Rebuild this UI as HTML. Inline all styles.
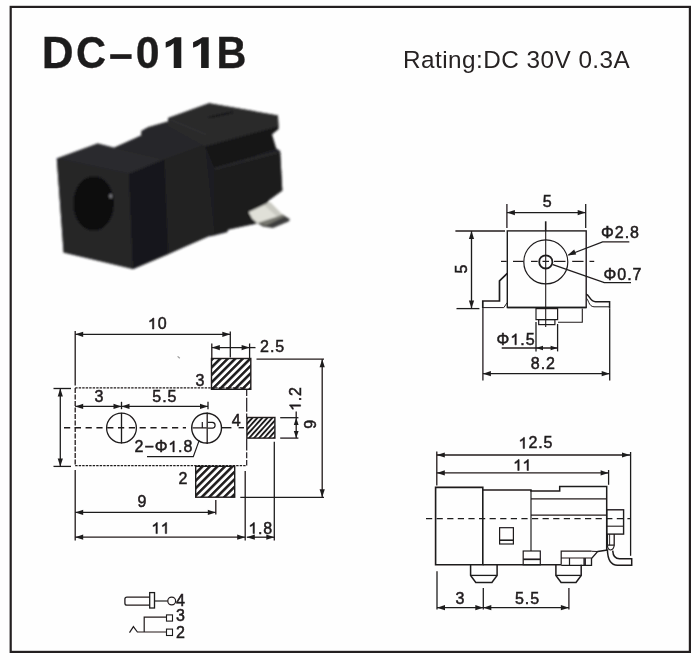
<!DOCTYPE html>
<html><head><meta charset="utf-8"><title>DC-011B</title>
<style>
html,body{margin:0;padding:0;background:#fefefe;}
body{width:700px;height:660px;overflow:hidden;font-family:"Liberation Sans",sans-serif;}
svg{display:block;font-family:"Liberation Sans",sans-serif;}
</style></head><body>
<svg width="700" height="660" viewBox="0 0 700 660">
<defs>
<filter id="soft" x="-5%" y="-5%" width="110%" height="110%"><feGaussianBlur stdDeviation="0.85"/></filter>
<filter id="ink" x="0" y="0" width="700" height="660" filterUnits="userSpaceOnUse"><feGaussianBlur stdDeviation="0.32"/></filter>
<pattern id="hatchA" width="5.3" height="5.3" patternUnits="userSpaceOnUse" patternTransform="rotate(45)">
<rect width="5.3" height="5.3" fill="#fefefe"/><rect width="2.55" height="5.3" fill="#1f1b1c"/></pattern>
<pattern id="hatchB" width="3.7" height="3.7" patternUnits="userSpaceOnUse" patternTransform="rotate(42)">
<rect width="3.7" height="3.7" fill="#fefefe"/><rect width="1.9" height="3.7" fill="#1f1b1c"/></pattern>
</defs>
<rect width="700" height="660" fill="#fefefe"/>
<rect x="10.7" y="6.9" width="679.2" height="645" fill="none" stroke="#231f20" stroke-width="2.2"/>
<g filter="url(#ink)">
<text transform="translate(41.75 68.0) scale(0.9894 1)" font-size="44.6" font-weight="bold" fill="#1f1b1c" stroke="#1f1b1c" stroke-width="0.3">D</text>
<text transform="translate(76.03 68.0) scale(0.9342 1)" font-size="44.6" font-weight="bold" fill="#1f1b1c" stroke="#1f1b1c" stroke-width="0.3">C</text>
<rect x="110.2" y="54.2" width="21.4" height="4.7" fill="#1f1b1c" stroke="none"/>
<text transform="translate(135.81 68.0) scale(0.9609 1)" font-size="44.6" font-weight="bold" fill="#1f1b1c" stroke="#1f1b1c" stroke-width="0.3">0</text>
<path d="M181.30 37.32 L181.30 68.00 L173.72 68.00 L173.72 43.25 Q171.04 46.37 165.69 47.71 L165.69 42.36 Q172.38 39.23 175.06 37.32 Z" fill="#1f1b1c" stroke="none"/>
<path d="M208.70 37.32 L208.70 68.00 L201.12 68.00 L201.12 43.25 Q198.44 46.37 193.09 47.71 L193.09 42.36 Q199.78 39.23 202.46 37.32 Z" fill="#1f1b1c" stroke="none"/>
<text transform="translate(216.51 68.0) scale(0.9294 1)" font-size="44.6" font-weight="bold" fill="#1f1b1c" stroke="#1f1b1c" stroke-width="0.3">B</text>
<text x="403.0" y="67.7" font-size="24.3" letter-spacing="0.47" fill="#262223" stroke="none">Rating:DC 30V 0.3A</text>
</g>
<g filter="url(#soft)" stroke="none">
<polygon fill="#1e1e20" points="56.8,158.6 97.7,143.6 114,147.7 141.3,135.4 141.5,131 148,127.3 168,121.5 168.2,118 209.1,103.2 277.9,115.5 278.7,129.1 271.9,134.6 276,148.2 280.1,151 282.3,190.5 269.2,200.1 262,206 256.5,223.5 244.6,226 228.5,229.6 227,232.2 213,235.8 208.5,236.4 133.1,269 63.6,252.6" />
<polygon fill="#2b2b2d" points="56.8,158.6 97.7,143.6 114,147.7 164.4,159.4 129,174" />
<polygon fill="#252527" points="56.8,158.6 129,174 133.1,269 63.6,252.6" />
<polygon fill="#18181a" points="129,174 164.4,159.4 168.2,254.2 133.1,269" />
<polygon fill="#28282a" points="114,147.7 141.3,135.4 141.5,131 148,127.3 168,121.5 205.3,144.5 164.4,159.4" />
<polygon fill="#212123" points="164.4,159.4 205.3,144.5 214.6,233 168.2,254.2" />
<polygon fill="#2a2a2c" points="168.2,118 209.1,103.2 277.9,115.5 278.5,126.5 205.3,146.4 168,126" />
<polygon fill="#161618" points="205.3,146.4 278.5,126.5 271.9,134.6 276,148.2 214.6,168.7 207,150" />
<polygon fill="#1c1c1e" points="214.6,168.7 280.1,151 282.3,190.5 269.2,200.1 256.5,223.5 244.6,226 228.5,229.6 214.6,233" />
<path d="M214.6 168.7 L280 151.5" stroke="#2f2f31" stroke-width="1.6" fill="none"/>
<path d="M170 119.5 L206 134.5" stroke="#343436" stroke-width="1.3" fill="none"/>
<path d="M209 117.6 L233 112.2" stroke="#0e0e10" stroke-width="1.5" fill="none"/>
<ellipse cx="93.6" cy="203.5" rx="20.4" ry="27.2" fill="#0c0c0e"/>
<ellipse cx="110.7" cy="196.2" rx="1.5" ry="2.4" fill="#77777a"/>
<polygon fill="#3e3e3c" points="257.1,222.9 275.7,217.1 282.1,214.3 290,219.3 288.6,221.6 272.9,228.1 262.9,226.6" />
<polygon fill="#77776f" points="257.1,222.9 275.7,217.1 282.1,214.3 285,216.2 266,225.5" />
<polygon fill="#e0e0d8" points="248.6,212.1 270,202.1 282.1,214.3 275.7,217.1 257.1,222.9 252.1,218.6" />
<polygon fill="#c9c9c1" points="264,205 270,202.1 282.1,214.3 277,216.6" />
</g>
<g stroke="#1f1b1c" fill="none" filter="url(#ink)">
<rect x="211.5" y="358.5" width="39.3" height="30.8" fill="url(#hatchA)" stroke-width="1.4"/>
<rect x="246.9" y="417.5" width="28.0" height="20.6" fill="url(#hatchB)" stroke-width="1.4"/>
<rect x="195.7" y="466.3" width="39.0" height="30.9" fill="url(#hatchA)" stroke-width="1.4"/>
<line x1="75.2" y1="387.9" x2="246.7" y2="387.9" stroke-width="1.4" stroke-dasharray="2.4 1.1"/>
<line x1="75.2" y1="465.6" x2="246.7" y2="465.6" stroke-width="1.4" stroke-dasharray="2.4 1.1"/>
<line x1="75.2" y1="387.9" x2="75.2" y2="465.6" stroke-width="1.3" stroke-dasharray="5 1.5"/>
<line x1="246.7" y1="389.5" x2="246.7" y2="417.0" stroke-width="1.2" stroke-dasharray="6.5 1.8 14 1.8"/>
<line x1="246.7" y1="438.5" x2="246.7" y2="465.6" stroke-width="1.2" stroke-dasharray="12 1.8 6 1.8"/>
<line x1="64.0" y1="427.8" x2="186.0" y2="427.8" stroke-width="1.4" stroke-dasharray="6.2 4.6"/>
<line x1="221.7" y1="427.7" x2="231.4" y2="427.7" stroke-width="1.4" />
<line x1="238.6" y1="427.7" x2="244.0" y2="427.7" stroke-width="1.4" />
<path d="M177.6 356.4 L179.8 358.2" stroke-width="1.2" fill="none" stroke="#9a9a9a"/>
<circle cx="121.5" cy="428.0" r="14.9" stroke-width="1.3"/>
<circle cx="206.6" cy="428.1" r="14.9" stroke-width="1.4"/>
<line x1="121.5" y1="412.8" x2="121.5" y2="443.5" stroke-width="1.3" />
<line x1="207.2" y1="412.4" x2="207.2" y2="444.0" stroke-width="1.3" />
<path d="M192.5 427.8 H206.8 M202.3 421.9 V427.8 M208 422.4 H212.4 Q215.1 422.6 215.1 425.2 Q215.1 428 212.4 428.2 H208" stroke-width="1.2" fill="none" />
<line x1="75.2" y1="331.0" x2="75.2" y2="385.5" stroke-width="1.3" />
<line x1="230.3" y1="331.4" x2="230.3" y2="357.5" stroke-width="1.3" />
<line x1="75.2" y1="334.3" x2="230.3" y2="334.3" stroke-width="1.3" />
<polygon points="75.2,334.3 83.2,331.7 83.2,336.9" fill="#1f1b1c" stroke="none"/>
<polygon points="230.3,334.3 222.3,331.7 222.3,336.9" fill="#1f1b1c" stroke="none"/>
<g fill="#1f1b1c" stroke="#1f1b1c" stroke-width="0.5" font-size="16" font-weight="normal" >
<path d="M153.86 317.99 L153.86 329.00 L152.46 329.00 L152.46 320.41 Q151.50 321.53 149.58 322.01 L149.58 320.68 Q151.98 319.56 152.94 317.99 Z"/>
<text x="157.80" y="329.0">0</text>
</g>
<line x1="211.8" y1="343.5" x2="211.8" y2="358.0" stroke-width="1.3" />
<line x1="249.6" y1="343.5" x2="249.6" y2="358.0" stroke-width="1.3" />
<line x1="211.8" y1="347.6" x2="249.6" y2="347.6" stroke-width="1.3" />
<polygon points="211.8,347.6 219.8,345.0 219.8,350.2" fill="#1f1b1c" stroke="none"/>
<polygon points="249.6,347.6 241.6,345.0 241.6,350.2" fill="#1f1b1c" stroke="none"/>
<line x1="249.6" y1="347.6" x2="255.5" y2="347.6" stroke-width="1.3" />
<g fill="#1f1b1c" stroke="#1f1b1c" stroke-width="0.5" font-size="16" font-weight="normal" >
<text x="260.00" y="351.6">2</text>
<text x="269.90" y="351.6">.</text>
<text x="275.34" y="351.6">5</text>
</g>
<line x1="53.5" y1="388.5" x2="71.0" y2="388.5" stroke-width="1.3" />
<line x1="53.5" y1="466.4" x2="71.0" y2="466.4" stroke-width="1.3" />
<line x1="60.3" y1="388.5" x2="60.3" y2="466.4" stroke-width="1.3" />
<polygon points="60.3,388.5 57.7,396.5 62.9,396.5" fill="#1f1b1c" stroke="none"/>
<polygon points="60.3,466.4 57.7,458.4 62.9,458.4" fill="#1f1b1c" stroke="none"/>
<line x1="75.2" y1="406.4" x2="121.5" y2="406.4" stroke-width="1.3" />
<polygon points="75.2,406.4 83.2,403.8 83.2,409.0" fill="#1f1b1c" stroke="none"/>
<polygon points="121.5,406.4 113.5,403.8 113.5,409.0" fill="#1f1b1c" stroke="none"/>
<line x1="121.5" y1="406.4" x2="208.0" y2="406.4" stroke-width="1.3" />
<polygon points="121.5,406.4 129.5,403.8 129.5,409.0" fill="#1f1b1c" stroke="none"/>
<polygon points="208.0,406.4 200.0,403.8 200.0,409.0" fill="#1f1b1c" stroke="none"/>
<line x1="121.5" y1="401.8" x2="121.5" y2="409.2" stroke-width="1.3" />
<line x1="208.0" y1="401.8" x2="208.0" y2="409.2" stroke-width="1.3" />
<g fill="#1f1b1c" stroke="#1f1b1c" stroke-width="0.5" font-size="16" font-weight="normal" >
<text x="94.55" y="401.6">3</text>
</g>
<g fill="#1f1b1c" stroke="#1f1b1c" stroke-width="0.5" font-size="16" font-weight="normal" >
<text x="152.28" y="401.6">5</text>
<text x="162.18" y="401.6">.</text>
<text x="167.62" y="401.6">5</text>
</g>
<g fill="#1f1b1c" stroke="#1f1b1c" stroke-width="0.5" font-size="16" font-weight="normal" >
<text x="134.60" y="451.9">2</text>
<text x="144.40" y="451.9">−</text>
<text x="154.64" y="451.9">Φ</text>
<path d="M174.26 440.89 L174.26 451.90 L172.87 451.90 L172.87 443.31 Q171.91 444.43 169.99 444.91 L169.99 443.58 Q172.39 442.46 173.35 440.89 Z"/>
<text x="178.10" y="451.9">.</text>
<text x="183.45" y="451.9">8</text>
</g>
<path d="M147 456.6 H193.3 L199.2 440.4" stroke-width="1.2" fill="none" />
<g fill="#1f1b1c" stroke="#1f1b1c" stroke-width="0.5" font-size="16" font-weight="normal" >
<text x="195.55" y="385.9">3</text>
</g>
<g fill="#1f1b1c" stroke="#1f1b1c" stroke-width="0.5" font-size="16" font-weight="normal" >
<text x="231.75" y="426.2">4</text>
</g>
<g fill="#1f1b1c" stroke="#1f1b1c" stroke-width="0.5" font-size="16" font-weight="normal" >
<text x="178.55" y="483.8">2</text>
</g>
<line x1="215.8" y1="500.0" x2="215.8" y2="514.5" stroke-width="1.3" />
<line x1="75.2" y1="512.4" x2="215.8" y2="512.4" stroke-width="1.3" />
<polygon points="75.2,512.4 83.2,509.8 83.2,515.0" fill="#1f1b1c" stroke="none"/>
<polygon points="215.8,512.4 207.8,509.8 207.8,515.0" fill="#1f1b1c" stroke="none"/>
<g fill="#1f1b1c" stroke="#1f1b1c" stroke-width="0.5" font-size="16" font-weight="normal" >
<text x="137.55" y="507.0">9</text>
</g>
<line x1="75.2" y1="470.0" x2="75.2" y2="540.5" stroke-width="1.3" />
<line x1="245.2" y1="471.0" x2="245.2" y2="540.5" stroke-width="1.3" />
<line x1="274.3" y1="441.8" x2="274.3" y2="540.5" stroke-width="1.3" />
<line x1="75.2" y1="537.2" x2="245.2" y2="537.2" stroke-width="1.3" />
<polygon points="75.2,537.2 83.2,534.6 83.2,539.8" fill="#1f1b1c" stroke="none"/>
<polygon points="245.2,537.2 237.2,534.6 237.2,539.8" fill="#1f1b1c" stroke="none"/>
<g fill="#1f1b1c" stroke="#1f1b1c" stroke-width="0.5" font-size="16" font-weight="normal" >
<path d="M157.36 522.59 L157.36 533.60 L155.96 533.60 L155.96 525.01 Q155.00 526.13 153.08 526.61 L153.08 525.28 Q155.48 524.16 156.44 522.59 Z"/>
<path d="M166.65 522.59 L166.65 533.60 L165.26 533.60 L165.26 525.01 Q164.30 526.13 162.38 526.61 L162.38 525.28 Q164.78 524.16 165.74 522.59 Z"/>
</g>
<line x1="246.8" y1="537.2" x2="274.3" y2="537.2" stroke-width="1.3" />
<polygon points="246.8,537.2 254.8,534.6 254.8,539.8" fill="#1f1b1c" stroke="none"/>
<polygon points="274.3,537.2 266.3,534.6 266.3,539.8" fill="#1f1b1c" stroke="none"/>
<g fill="#1f1b1c" stroke="#1f1b1c" stroke-width="0.5" font-size="16" font-weight="normal" >
<path d="M254.43 522.59 L254.43 533.60 L253.04 533.60 L253.04 525.01 Q252.08 526.13 250.16 526.61 L250.16 525.28 Q252.56 524.16 253.52 522.59 Z"/>
<text x="258.08" y="533.6">.</text>
<text x="263.22" y="533.6">8</text>
</g>
<line x1="280.2" y1="417.7" x2="298.4" y2="417.7" stroke-width="1.3" />
<line x1="280.2" y1="438.1" x2="298.4" y2="438.1" stroke-width="1.3" />
<line x1="296.2" y1="411.5" x2="296.2" y2="438.1" stroke-width="1.3" />
<polygon points="296.2,417.7 293.8,424.9 298.6,424.9" fill="#1f1b1c" stroke="none"/>
<polygon points="296.2,438.1 293.8,430.9 298.6,430.9" fill="#1f1b1c" stroke="none"/>
<g transform="rotate(-90 300.6 399.0)" fill="#1f1b1c" stroke="#1f1b1c" stroke-width="0.5" font-size="16" font-weight="normal" >
<path d="M294.73 387.99 L294.73 399.00 L293.34 399.00 L293.34 390.41 Q292.38 391.53 290.46 392.01 L290.46 390.68 Q292.86 389.56 293.82 387.99 Z"/>
<text x="298.38" y="399.0">.</text>
<text x="303.52" y="399.0">2</text>
</g>
<line x1="256.5" y1="359.2" x2="324.0" y2="359.2" stroke-width="1.3" />
<line x1="240.3" y1="497.3" x2="324.0" y2="497.3" stroke-width="1.3" />
<line x1="322.2" y1="359.2" x2="322.2" y2="497.3" stroke-width="1.3" />
<polygon points="322.2,359.2 319.6,367.2 324.8,367.2" fill="#1f1b1c" stroke="none"/>
<polygon points="322.2,497.3 319.6,489.3 324.8,489.3" fill="#1f1b1c" stroke="none"/>
<g transform="rotate(-90 316.2 424.3)" fill="#1f1b1c" stroke="#1f1b1c" stroke-width="0.5" font-size="16" font-weight="normal" >
<text x="311.75" y="424.3">9</text>
</g>
<rect x="507.3" y="230.9" width="78.9" height="76.6" stroke-width="1.4"/>
<circle cx="545.8" cy="261.9" r="22.0" stroke-width="1.2"/>
<circle cx="545.8" cy="261.9" r="6.6" stroke-width="1.8"/>
<line x1="545.7" y1="221.3" x2="545.7" y2="231.0" stroke-width="1.6" />
<line x1="545.7" y1="231.0" x2="545.7" y2="327.0" stroke-width="1.1" />
<line x1="501.0" y1="261.4" x2="506.7" y2="261.4" stroke-width="1.2" />
<line x1="513.0" y1="261.4" x2="523.5" y2="261.4" stroke-width="1.2" />
<line x1="531.0" y1="261.4" x2="537.7" y2="261.4" stroke-width="1.2" />
<line x1="542.5" y1="261.4" x2="549.0" y2="261.4" stroke-width="1.2" />
<line x1="554.0" y1="261.4" x2="565.5" y2="261.4" stroke-width="1.2" />
<line x1="572.2" y1="261.4" x2="583.5" y2="261.4" stroke-width="1.2" />
<line x1="589.5" y1="261.4" x2="594.2" y2="261.4" stroke-width="1.2" />
<line x1="506.9" y1="204.0" x2="506.9" y2="228.0" stroke-width="1.3" />
<line x1="585.7" y1="204.0" x2="585.7" y2="228.0" stroke-width="1.3" />
<line x1="506.9" y1="212.6" x2="585.7" y2="212.6" stroke-width="1.3" />
<polygon points="506.9,212.6 514.9,210.0 514.9,215.2" fill="#1f1b1c" stroke="none"/>
<polygon points="585.7,212.6 577.7,210.0 577.7,215.2" fill="#1f1b1c" stroke="none"/>
<g fill="#1f1b1c" stroke="#1f1b1c" stroke-width="0.5" font-size="16" font-weight="normal" >
<text x="542.85" y="206.8">5</text>
</g>
<line x1="455.4" y1="231.0" x2="505.0" y2="231.0" stroke-width="1.3" />
<line x1="456.5" y1="308.6" x2="479.4" y2="308.6" stroke-width="1.3" />
<line x1="471.5" y1="231.0" x2="471.5" y2="308.6" stroke-width="1.3" />
<polygon points="471.5,231.0 468.9,239.0 474.1,239.0" fill="#1f1b1c" stroke="none"/>
<polygon points="471.5,308.6 468.9,300.6 474.1,300.6" fill="#1f1b1c" stroke="none"/>
<g transform="rotate(-90 466.8 269.0)" fill="#1f1b1c" stroke="#1f1b1c" stroke-width="0.5" font-size="16" font-weight="normal" >
<text x="462.35" y="269.0">5</text>
</g>
<g fill="#1f1b1c" stroke="#1f1b1c" stroke-width="0.5" font-size="16" font-weight="normal" >
<text x="601.00" y="238.4">Φ</text>
<text x="614.77" y="238.4">2</text>
<text x="624.66" y="238.4">.</text>
<text x="630.11" y="238.4">8</text>
</g>
<path d="M629.3 241.9 H602.6 L568.5 255" stroke-width="1.3" fill="none" />
<polygon points="567.2,255.4 574.2,249.6 576.2,254.6" fill="#1f1b1c" stroke="none"/>
<g fill="#1f1b1c" stroke="#1f1b1c" stroke-width="0.5" font-size="16" font-weight="normal" >
<text x="603.50" y="279.5">Φ</text>
<text x="617.27" y="279.5">0</text>
<text x="627.16" y="279.5">.</text>
<text x="632.61" y="279.5">7</text>
</g>
<path d="M631 282.6 H604.3 L552.9 264.7" stroke-width="1.3" fill="none" />
<path d="M507.3 273.3 L499.5 280.8 V301 H482.8 V308.6" stroke-width="1.7" fill="none" />
<path d="M482.8 307.6 H503.8 L507.3 302.5" stroke-width="1.0" fill="none" />
<path d="M586.2 294.3 C589.5 295 590 301.4 595.5 301.7 H609.6 V308.6" stroke-width="1.5" fill="none" />
<path d="M586.2 298 C588.5 299 588.5 306.6 594 306.8 H609.6" stroke-width="1.0" fill="none" />
<line x1="507.3" y1="307.5" x2="586.2" y2="307.5" stroke-width="1.4" />
<path d="M582.3 308.6 V322.3 H558" stroke-width="1.1" fill="none" />
<rect x="536" y="308.6" width="21.6" height="11" stroke-width="1.2"/>
<rect x="538.7" y="319.6" width="16.2" height="5" stroke-width="1.2"/>
<line x1="536.0" y1="322.0" x2="536.0" y2="351.4" stroke-width="1.3" />
<line x1="557.6" y1="324.0" x2="557.6" y2="351.4" stroke-width="1.3" />
<line x1="501.7" y1="348.0" x2="557.6" y2="348.0" stroke-width="1.3" />
<polygon points="536.0,348.0 543.0,345.7 543.0,350.3" fill="#1f1b1c" stroke="none"/>
<polygon points="557.6,348.0 550.6,345.7 550.6,350.3" fill="#1f1b1c" stroke="none"/>
<g fill="#1f1b1c" stroke="#1f1b1c" stroke-width="0.5" font-size="16" font-weight="normal" >
<text x="496.60" y="344.8">Φ</text>
<path d="M516.32 333.79 L516.32 344.80 L514.93 344.80 L514.93 336.21 Q513.97 337.33 512.05 337.81 L512.05 336.48 Q514.45 335.36 515.41 333.79 Z"/>
<text x="520.26" y="344.8">.</text>
<text x="525.71" y="344.8">5</text>
</g>
<line x1="482.9" y1="308.6" x2="482.9" y2="380.6" stroke-width="1.3" />
<line x1="609.7" y1="308.6" x2="609.7" y2="380.6" stroke-width="1.3" />
<line x1="482.9" y1="373.7" x2="609.7" y2="373.7" stroke-width="1.3" />
<polygon points="482.9,373.7 490.9,371.1 490.9,376.3" fill="#1f1b1c" stroke="none"/>
<polygon points="609.7,373.7 601.7,371.1 601.7,376.3" fill="#1f1b1c" stroke="none"/>
<g fill="#1f1b1c" stroke="#1f1b1c" stroke-width="0.5" font-size="16" font-weight="normal" >
<text x="530.78" y="369.4">8</text>
<text x="540.68" y="369.4">.</text>
<text x="546.12" y="369.4">2</text>
</g>
<line x1="436.8" y1="451.4" x2="436.8" y2="485.5" stroke-width="1.3" />
<line x1="608.6" y1="470.0" x2="608.6" y2="484.8" stroke-width="1.3" />
<line x1="630.6" y1="452.0" x2="630.6" y2="555.8" stroke-width="1.3" />
<line x1="436.8" y1="455.0" x2="630.0" y2="455.0" stroke-width="1.3" />
<polygon points="436.8,455.0 444.8,452.4 444.8,457.6" fill="#1f1b1c" stroke="none"/>
<polygon points="630.0,455.0 622.0,452.4 622.0,457.6" fill="#1f1b1c" stroke="none"/>
<g fill="#1f1b1c" stroke="#1f1b1c" stroke-width="0.5" font-size="16" font-weight="normal" >
<path d="M524.53 437.39 L524.53 448.40 L523.14 448.40 L523.14 439.81 Q522.18 440.93 520.26 441.41 L520.26 440.08 Q522.66 438.96 523.62 437.39 Z"/>
<text x="528.38" y="448.4">2</text>
<text x="538.17" y="448.4">.</text>
<text x="543.52" y="448.4">5</text>
</g>
<line x1="436.8" y1="472.9" x2="608.6" y2="472.9" stroke-width="1.3" />
<polygon points="436.8,472.9 444.8,470.3 444.8,475.5" fill="#1f1b1c" stroke="none"/>
<polygon points="608.6,472.9 600.6,470.3 600.6,475.5" fill="#1f1b1c" stroke="none"/>
<g fill="#1f1b1c" stroke="#1f1b1c" stroke-width="0.5" font-size="16" font-weight="normal" >
<path d="M519.16 459.49 L519.16 470.50 L517.76 470.50 L517.76 461.91 Q516.80 463.03 514.88 463.51 L514.88 462.18 Q517.28 461.06 518.24 459.49 Z"/>
<path d="M528.45 459.49 L528.45 470.50 L527.06 470.50 L527.06 461.91 Q526.10 463.03 524.18 463.51 L524.18 462.18 Q526.58 461.06 527.54 459.49 Z"/>
</g>
<path d="M435.6 487.4 H482.8 V564.8 H435.6 Z" stroke-width="1.6" fill="none" />
<path d="M482.8 490.1 H531 V490.9 H559.7 V486.4 H606.7 V550.5" stroke-width="1.5" fill="none" />
<line x1="531.0" y1="490.1" x2="531.0" y2="551.0" stroke-width="1.2" />
<line x1="482.8" y1="564.8" x2="561.2" y2="564.8" stroke-width="1.4" />
<line x1="531.0" y1="498.9" x2="606.7" y2="498.9" stroke-width="1.2" />
<line x1="531.0" y1="515.2" x2="606.7" y2="515.2" stroke-width="1.2" />
<line x1="426.0" y1="518.7" x2="631.0" y2="518.7" stroke-width="1.2" stroke-dasharray="6.2 4.4"/>
<rect x="499.6" y="527.7" width="13.8" height="16.3" stroke-width="1.2"/>
<line x1="499.6" y1="540.2" x2="513.4" y2="540.2" stroke-width="1.6" />
<rect x="523.2" y="551" width="17.1" height="13.8" stroke-width="1.2"/>
<line x1="523.2" y1="559.3" x2="540.3" y2="559.3" stroke-width="1.7" />
<rect x="606.7" y="509.8" width="16.9" height="24.3" stroke-width="1.4"/>
<line x1="606.7" y1="526.2" x2="623.6" y2="526.2" stroke-width="1.1" />
<path d="M607.4 534.1 V545.2 H614.2 V534.1" stroke-width="1.3" fill="none" />
<line x1="609.6" y1="534.1" x2="609.6" y2="545.2" stroke-width="0.9" />
<path d="M607.4 545.2 Q607.6 549.5 610.5 550 Q613.8 549.5 614.2 545.2" stroke-width="1.2" fill="none" />
<path d="M607.4 549.5 C607.6 558 609.5 565.2 617.5 565.2 H631.7 V558.8 H619.5 C614.8 558.8 613 555 612.7 550.6" stroke-width="1.5" fill="none" />
<path d="M561.2 564.8 V551.2 H591.5 M561.2 558 H591.5 M569.5 558 V565.2 M584 558 V565.2 M585.3 558 V565.2" stroke-width="1.2" fill="none" />
<path d="M561.2 565.3 H591.5 V558.6 L597.6 551.5 Q603 550.6 607.4 550" stroke-width="1.3" fill="none" />
<path d="M591.5 551.2 L597.6 551.5" stroke-width="1.1" fill="none" />
<path d="M470.6 564.8 V575.4 L475.8 582.4 H491.90000000000003 L497.1 575.4 V564.8" stroke-width="1.5" fill="none" />
<line x1="470.6" y1="575.4" x2="497.1" y2="575.4" stroke-width="1.3" />
<path d="M555.9 564.8 V575.4 L561.1 582.4 H576.0 L581.2 575.4 V564.8" stroke-width="1.5" fill="none" />
<line x1="555.9" y1="575.4" x2="581.2" y2="575.4" stroke-width="1.3" />
<line x1="437.0" y1="571.2" x2="437.0" y2="609.5" stroke-width="1.3" />
<line x1="483.3" y1="588.1" x2="483.3" y2="609.5" stroke-width="1.3" />
<line x1="568.9" y1="587.9" x2="568.9" y2="609.5" stroke-width="1.3" />
<line x1="437.0" y1="607.7" x2="483.3" y2="607.7" stroke-width="1.3" />
<polygon points="437.0,607.7 445.0,605.1 445.0,610.3" fill="#1f1b1c" stroke="none"/>
<polygon points="483.3,607.7 475.3,605.1 475.3,610.3" fill="#1f1b1c" stroke="none"/>
<line x1="483.3" y1="607.7" x2="568.9" y2="607.7" stroke-width="1.3" />
<polygon points="483.3,607.7 491.3,605.1 491.3,610.3" fill="#1f1b1c" stroke="none"/>
<polygon points="568.9,607.7 560.9,605.1 560.9,610.3" fill="#1f1b1c" stroke="none"/>
<g fill="#1f1b1c" stroke="#1f1b1c" stroke-width="0.5" font-size="16" font-weight="normal" >
<text x="455.55" y="604.0">3</text>
</g>
<g fill="#1f1b1c" stroke="#1f1b1c" stroke-width="0.5" font-size="16" font-weight="normal" >
<text x="514.88" y="604.0">5</text>
<text x="524.78" y="604.0">.</text>
<text x="530.22" y="604.0">5</text>
</g>
<path d="M149.7 597.1 H127 Q124.9 597.1 124.9 599 V603.2 Q124.9 605.1 127 605.1 H149.7" stroke-width="1.3" fill="none" />
<rect x="149.7" y="592.6" width="4.8" height="15.4" stroke-width="1.3"/>
<line x1="154.5" y1="601.0" x2="167.7" y2="601.0" stroke-width="1.2" />
<circle cx="171.7" cy="601" r="3.9" stroke-width="1.2"/>
<rect x="166.5" y="614.9" width="6" height="6.2" stroke-width="1.1"/>
<rect x="166.5" y="629.1" width="6" height="6.4" stroke-width="1.1"/>
<path d="M166.5 617.1 H144.2 V632" stroke-width="1.2" fill="none" />
<path d="M166.5 632 H137.4 L133.4 626.6 L129.5 632.6" stroke-width="1.2" fill="none" />
<g fill="#1f1b1c" stroke="#1f1b1c" stroke-width="0.5" font-size="16" font-weight="normal" >
<text x="176.00" y="605.8">4</text>
</g>
<g fill="#1f1b1c" stroke="#1f1b1c" stroke-width="0.5" font-size="16" font-weight="normal" >
<text x="176.00" y="621.0">3</text>
</g>
<g fill="#1f1b1c" stroke="#1f1b1c" stroke-width="0.5" font-size="16" font-weight="normal" >
<text x="176.00" y="638.0">2</text>
</g>
</g>
</svg>
</body></html>
